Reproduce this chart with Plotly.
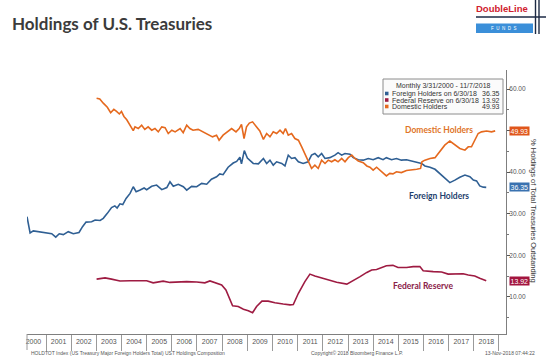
import plotly.graph_objects as go

# ---------------- data ----------------
foreign_dates = [
    "2000-03-31","2000-05-15","2000-07-01","2000-10-05","2001-01-10","2001-03-25","2001-05-22","2001-07-12",
    "2001-09-10","2001-11-20","2002-02-01","2002-04-25","2002-06-15","2002-08-05","2002-10-25","2002-12-15",
    "2003-02-25","2003-04-12","2003-06-10","2003-08-10","2003-09-27","2003-10-30","2003-12-10","2004-01-20",
    "2004-03-08","2004-05-05","2004-06-20","2004-08-01","2004-09-28","2004-11-25","2005-01-01","2005-03-15",
    "2005-05-25","2005-08-08","2005-10-20","2005-12-05","2006-01-22","2006-04-05","2006-06-17","2006-08-05",
    "2006-10-15","2006-12-28","2007-03-10","2007-05-22","2007-07-30","2007-10-12","2007-11-28","2008-01-15",
    "2008-03-28","2008-06-10","2008-07-30","2008-09-15","2008-10-08","2008-11-18","2009-01-01","2009-02-10",
    "2009-03-28","2009-06-10","2009-08-22","2009-10-08","2009-11-25","2010-01-12","2010-03-02","2010-05-15",
    "2010-07-01","2010-08-18","2010-10-05","2010-11-22","2011-01-12","2011-03-22","2011-06-02","2011-07-22",
    "2011-09-08","2011-10-27","2011-12-15","2012-02-02","2012-04-12","2012-06-25","2012-08-10","2012-10-01",
    "2012-11-18","2013-01-30","2013-03-18","2013-05-30","2013-08-10","2013-10-22","2014-01-01","2014-03-15",
    "2014-05-25","2014-07-12","2014-09-25","2014-12-05","2015-02-15","2015-04-30","2015-07-12","2015-09-25",
    "2015-12-05","2016-01-22","2016-04-05","2016-06-17","2016-08-25","2016-11-05","2017-01-18","2017-04-01",
    "2017-06-12","2017-08-25","2017-11-05","2017-12-25","2018-02-10","2018-03-28","2018-05-18","2018-06-30",
]
foreign_values = [
    29.3, 25.4, 25.9, 25.7, 25.4, 25.2, 24.4, 25.2,
    25.0, 25.7, 25.2, 25.5, 26.9, 28.0, 28.1, 28.5,
    28.4, 28.9, 30.1, 31.5, 31.9, 31.4, 32.4, 32.2,
    33.7, 34.9, 36.5, 35.3, 35.7, 36.2, 35.8, 36.6,
    36.9, 35.8, 36.3, 37.7, 36.6, 37.1, 36.5, 35.7,
    36.6, 36.5, 37.3, 37.1, 38.3, 38.9, 39.6, 39.4,
    41.2, 42.2, 42.6, 43.6, 42.0, 45.2, 43.4, 42.9,
    42.1, 42.0, 43.3, 42.1, 42.9, 41.7, 42.5, 42.1,
    41.5, 44.1, 43.3, 43.5, 42.5, 42.1, 42.5, 44.1,
    44.5, 43.7, 44.5, 43.3, 43.5, 44.1, 44.7, 44.1,
    44.5, 44.3, 43.5, 43.0, 42.9, 43.3, 43.0, 43.5,
    43.0, 43.5, 43.0, 43.3, 42.9, 43.0, 42.7, 42.5,
    42.1, 41.5, 41.2, 40.7, 39.7, 38.5, 37.5, 38.1,
    38.8, 39.3, 38.9, 38.1, 37.9, 36.7, 36.4, 36.35,
]

domestic_dates = [
    "2003-01-05","2003-02-20","2003-04-12","2003-06-10","2003-07-28","2003-09-12","2003-10-22","2003-12-01",
    "2004-01-01","2004-02-06","2004-03-18","2004-05-05","2004-06-20","2004-07-15","2004-09-01","2004-10-20",
    "2004-12-05","2005-01-22","2005-03-15","2005-05-01","2005-06-18","2005-08-08","2005-09-25","2005-11-10",
    "2006-01-01","2006-02-18","2006-05-01","2006-06-15","2006-08-05","2006-09-20","2006-11-05","2007-01-18",
    "2007-04-01","2007-06-12","2007-08-15","2007-10-12","2007-11-18","2008-01-15","2008-03-15","2008-05-18",
    "2008-07-20","2008-09-05","2008-10-08","2008-11-14","2008-12-20","2009-01-30","2009-03-18","2009-05-15",
    "2009-07-01","2009-08-22","2009-10-08","2009-11-25","2010-01-12","2010-03-02","2010-04-20","2010-06-05",
    "2010-07-08","2010-08-18","2010-10-05","2010-11-22","2011-01-12","2011-03-01","2011-04-16","2011-06-02",
    "2011-07-22","2011-09-08","2011-10-27","2011-12-15","2012-02-02","2012-03-20","2012-05-08","2012-06-25",
    "2012-08-10","2012-10-01","2012-11-18","2013-01-05","2013-02-25","2013-04-12","2013-05-30","2013-08-10",
    "2013-10-01","2013-11-15","2014-01-01","2014-02-20","2014-04-08","2014-05-25","2014-07-12","2014-08-30",
    "2014-10-15","2014-12-05","2015-02-15","2015-04-30","2015-07-12","2015-09-25","2015-11-20","2015-12-10",
    "2016-01-22","2016-04-05","2016-06-17","2016-08-25","2016-11-05","2017-01-18","2017-04-01","2017-06-12",
    "2017-08-25","2017-10-12","2017-11-28","2018-01-15","2018-03-05","2018-04-22","2018-07-05","2018-09-15",
    "2018-11-07",
]
domestic_values = [
    57.8, 57.6, 56.6, 55.6, 54.3, 55.1, 54.6, 54.0,
    54.6, 53.4, 52.6, 51.3, 50.0, 50.9, 50.5, 51.3,
    50.3, 50.9, 50.1, 50.5, 49.7, 50.9, 50.7, 49.3,
    50.1, 49.7, 50.5, 49.5, 51.3, 50.5, 50.1, 50.3,
    49.7, 49.2, 48.5, 48.9, 47.7, 48.9, 49.7, 50.5,
    49.7, 50.5, 51.5, 48.1, 50.9, 51.8, 52.1, 50.9,
    49.9, 47.9, 49.3, 48.5, 49.7, 49.3, 50.1, 49.3,
    50.5, 48.9, 49.3, 48.1, 47.7, 46.1, 44.5, 42.5,
    40.9, 41.7, 40.9, 42.9, 42.1, 42.9, 42.5, 43.0,
    42.5, 43.3, 42.5, 43.5, 44.1, 43.3, 42.7, 42.3,
    41.5, 41.2, 40.5, 41.2, 40.5, 39.7, 39.1, 39.7,
    39.6, 40.1, 39.9, 40.4, 40.5, 40.7, 40.9, 42.5,
    42.9, 43.3, 43.5, 44.9, 46.5, 47.5, 46.7, 45.7,
    45.3, 46.1, 46.1, 47.7, 49.3, 49.7, 49.9, 49.7,
    49.93,
]

fed_dates = [
    "2003-01-05","2003-05-08","2003-08-10","2003-12-10","2004-05-05","2004-09-28","2005-01-01","2005-04-05",
    "2005-08-28","2005-12-05","2006-05-01","2006-08-05","2006-12-28","2007-04-25","2007-07-08","2007-10-12",
    "2007-12-25","2008-02-25","2008-04-12","2008-06-01","2008-08-22","2008-11-05","2009-01-15","2009-03-18",
    "2009-05-15","2009-08-01","2009-10-30","2010-02-05","2010-06-05","2010-09-12","2010-10-30","2011-01-12",
    "2011-04-16","2011-06-28","2011-09-08","2011-11-18","2012-02-25","2012-07-20","2012-12-15","2013-03-18",
    "2013-06-25","2013-10-01","2013-12-10","2014-02-20","2014-05-05","2014-07-12","2014-10-15","2014-12-28",
    "2015-05-01","2015-08-05","2015-11-10","2015-12-28","2016-05-22","2016-09-20","2016-12-25","2017-04-01",
    "2017-07-30","2017-10-12","2018-01-15","2018-03-28","2018-06-30",
]
fed_values = [
    14.3, 14.6, 14.3, 13.85, 13.9, 13.9, 13.9, 13.4,
    13.8, 13.5, 13.6, 13.7, 13.6, 13.4, 13.85, 13.3,
    12.9, 11.7, 9.7, 7.9, 7.7, 7.05, 6.7, 6.2,
    7.7, 9.0, 9.0, 8.6, 8.3, 8.1, 8.2, 10.9,
    13.7, 15.5, 15.05, 14.7, 14.1, 13.55, 13.1, 13.9,
    14.9, 15.9, 16.5, 16.6, 17.05, 17.5, 17.6, 17.1,
    17.1, 17.3, 17.3, 16.3, 16.1, 16.0, 15.5, 15.6,
    15.6, 15.3, 15.05, 14.5, 13.92,
]

y_tick_values = [10, 20, 30, 40, 50, 60]
y_tick_labels = ["10.00", "20.00", "30.00", "40.00", "", "60.00"]

title_text = "Holdings of U.S. Treasuries"
legend_header = "Monthly 3/31/2000 - 11/7/2018"
axis_title = "% Holdings of Total Treasuries Outstanding"
footer_left = "HOLDTOT Index (US Treasury Major Foreign Holders Total) UST Holdings Composition"
footer_mid = "Copyright\u00a9 2018 Bloomberg Finance L.P."
footer_right = "13-Nov-2018 07:44:22"

# ---------------- styles ----------------
W, H = 550, 364
ML, MR, MT, MB = 27, 44, 70, 30
PW, PH = W - ML - MR, H - MT - MB

C_FOREIGN = "#2F5F93"
C_DOMESTIC = "#E5691E"
C_FED = "#9E1B42"


def px(x):
    return (x - ML) / PW


def py(y):
    return (H - MB - y) / PH


fig = go.Figure()
fig.add_trace(go.Scatter(x=foreign_dates, y=foreign_values, mode="lines",
                         line=dict(color=C_FOREIGN, width=1.6), name="Foreign Holders"))
fig.add_trace(go.Scatter(x=fed_dates, y=fed_values, mode="lines",
                         line=dict(color=C_FED, width=1.6), name="Federal Reserve"))
fig.add_trace(go.Scatter(x=domestic_dates, y=domestic_values, mode="lines",
                         line=dict(color=C_DOMESTIC, width=1.6), name="Domestic Holders"))

fig.update_layout(
    width=W, height=H,
    margin=dict(l=ML, r=MR, t=MT, b=MB, pad=0),
    paper_bgcolor="white", plot_bgcolor="white",
    showlegend=False,
    font=dict(family="Liberation Sans", color="#444"),
)
fig.update_xaxes(
    type="date", range=["2000-03-31", "2019-04-13"],
    tick0="2000-01-01", dtick="M12", tickformat="%Y", ticklabelmode="period",
    ticks="outside", ticklen=16, tickcolor="#9a9a9a", tickwidth=1,
    ticklabelstandoff=-15,
    showgrid=False, zeroline=False,
    showline=True, linecolor="#7f7f7f", linewidth=1,
    tickfont=dict(size=7, color="#555", family="Liberation Sans"),
)
fig.update_yaxes(
    side="right", range=[1.1, 64.57],
    tickvals=y_tick_values, ticktext=y_tick_labels,
    ticks="outside", ticklen=3, tickcolor="#555",
    ticklabelstandoff=-2,
    minor=dict(dtick=5, ticks="outside", ticklen=2, tickcolor="#777"),
    showgrid=False, zeroline=False,
    showline=True, linecolor="#7f7f7f", linewidth=1,
    tickfont=dict(size=6.5, color="#555", family="Liberation Sans"),
)

shapes = []
annotations = []

# left separator at start of range
shapes.append(dict(type="line", xref="paper", yref="paper", x0=0, x1=0, y0=py(350), y1=py(334),
                   line=dict(color="#9a9a9a", width=1)))

# title
annotations.append(dict(text=title_text, xref="paper", yref="paper", x=px(10), y=py(23),
                        xanchor="left", yanchor="middle", showarrow=False,
                        font=dict(family="Lato", size=17, color="#3b3b3b", weight="bold")))

# logo
annotations.append(dict(text="DoubleLine", xref="paper", yref="paper", x=px(502), y=py(8.5),
                        xanchor="center", yanchor="middle", showarrow=False,
                        font=dict(family="Liberation Sans", size=9.5, color="#D0202E", weight="bold")))
shapes.append(dict(type="line", xref="paper", yref="paper", x0=px(476), x1=px(546), y0=py(17), y1=py(17),
                   line=dict(color="#1d2a44", width=1.5)))
shapes.append(dict(type="rect", xref="paper", yref="paper", x0=px(476), x1=px(533), y0=py(33), y1=py(23.5),
                   fillcolor="#3B8FD9", line=dict(width=0)))
annotations.append(dict(text="F  U  N  D  S", xref="paper", yref="paper", x=px(504), y=py(28.3),
                        xanchor="center", yanchor="middle", showarrow=False,
                        font=dict(family="Liberation Sans", size=4.5, color="white")))
for lx in (535.5, 539):
    shapes.append(dict(type="line", xref="paper", yref="paper", x0=px(lx), x1=px(lx), y0=py(34), y1=py(0),
                       line=dict(color="#1d2a44", width=1.4)))

# legend box
shapes.append(dict(type="rect", xref="paper", yref="paper", x0=px(383), x1=px(503), y0=py(114), y1=py(79),
                   fillcolor="#FBFBFB", line=dict(color="#8c8c8c", width=1)))
annotations.append(dict(text=legend_header, xref="paper", yref="paper", x=px(443), y=py(86),
                        xanchor="center", yanchor="middle", showarrow=False,
                        font=dict(family="Liberation Sans", size=7, color="#333")))
legend_rows = [
    ("Foreign Holders on 6/30/18", foreign_values[-1], C_FOREIGN, 93.5),
    ("Federal Reserve on 6/30/18", fed_values[-1], C_FED, 100),
    ("Domestic Holders", domestic_values[-1], C_DOMESTIC, 106.5),
]
for label, val, col, yy in legend_rows:
    shapes.append(dict(type="rect", xref="paper", yref="paper", x0=px(385), x1=px(388.5),
                       y0=py(yy + 1.8), y1=py(yy - 1.8), fillcolor=col, line=dict(width=0)))
    annotations.append(dict(text=label, xref="paper", yref="paper", x=px(389.5), y=py(yy),
                            xanchor="left", yanchor="middle", showarrow=False,
                            font=dict(family="Liberation Sans", size=7, color="#333")))
    annotations.append(dict(text=f"{val:.2f}", xref="paper", yref="paper", x=px(501.5), y=py(yy),
                            xanchor="right", yanchor="middle", showarrow=False,
                            font=dict(family="Liberation Sans", size=7, color="#333")))

# series labels
annotations.append(dict(text="Domestic Holders", xref="paper", yref="paper", x=px(438.5), y=py(130),
                        xanchor="center", yanchor="middle", showarrow=False,
                        font=dict(family="Lato", size=8.5, color="#E07428", weight="bold")))
annotations.append(dict(text="Foreign Holders", xref="paper", yref="paper", x=px(438.5), y=py(196),
                        xanchor="center", yanchor="middle", showarrow=False,
                        font=dict(family="Lato", size=8.5, color="#1F3F6E", weight="bold")))
annotations.append(dict(text="Federal Reserve", xref="paper", yref="paper", x=px(422.5), y=py(286),
                        xanchor="center", yanchor="middle", showarrow=False,
                        font=dict(family="Lato", size=8.5, color="#8A2148", weight="bold")))

# value tags on the right axis
for val, col in ((domestic_values[-1], "#E0561B"), (foreign_values[-1], "#3A72B0"), (fed_values[-1], "#A3153F")):
    annotations.append(dict(text=f"{val:.2f}", xref="paper", yref="y", x=px(508.5), y=val,
                            xanchor="left", yanchor="middle", showarrow=False,
                            bgcolor=col, borderpad=0.5,
                            font=dict(family="Liberation Sans", size=7, color="white")))

# axis title
annotations.append(dict(text=axis_title, xref="paper", yref="paper", x=px(534), y=py(211),
                        xanchor="center", yanchor="middle", showarrow=False, textangle=90,
                        font=dict(family="Liberation Sans", size=7.5, color="#333")))

# footer
annotations.append(dict(text=footer_left, xref="paper", yref="paper", x=px(29), y=py(353),
                        xanchor="left", yanchor="middle", showarrow=False,
                        font=dict(family="Liberation Sans", size=5, color="#555")))
annotations.append(dict(text=footer_mid, xref="paper", yref="paper", x=px(357), y=py(353),
                        xanchor="center", yanchor="middle", showarrow=False,
                        font=dict(family="Liberation Sans", size=5, color="#555")))
annotations.append(dict(text=footer_right, xref="paper", yref="paper", x=px(537), y=py(353),
                        xanchor="right", yanchor="middle", showarrow=False,
                        font=dict(family="Liberation Sans", size=5, color="#555")))

fig.update_layout(shapes=shapes, annotations=annotations)
fig.write_html("out.html", config={"displayModeBar": False},
               post_script="document.body.style.margin='0';")
